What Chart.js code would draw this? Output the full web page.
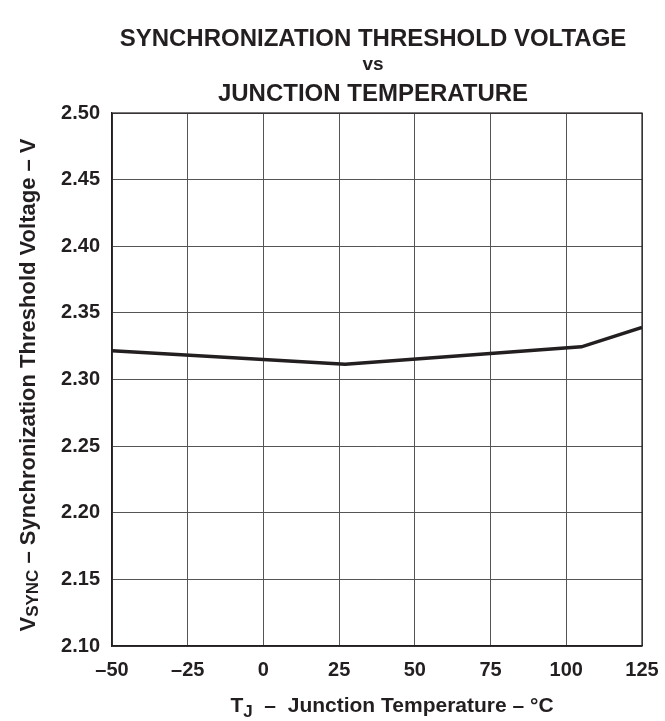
<!DOCTYPE html>
<html>
<head>
<meta charset="utf-8">
<script src="https://cdn.jsdelivr.net/npm/chart.js@4/dist/chart.umd.min.js"></script>
<style>
  html, body { margin: 0; padding: 0; background: #fff; }
  #wrap { width: 665px; height: 721px; }
</style>
</head>
<body>
<div id="wrap"><canvas id="myChart" width="665" height="721"></canvas></div>
<script>
// curve
const tempC = [-50, 27, 105, 125];
const vSync = [2.3215, 2.3115, 2.3245, 2.339];

const xTicks = [-50, -25, 0, 25, 50, 75, 100, 125];
const yTicks = [2.10, 2.15, 2.20, 2.25, 2.30, 2.35, 2.40, 2.45, 2.50];

const titleLines = ['SYNCHRONIZATION THRESHOLD VOLTAGE', 'vs', 'JUNCTION TEMPERATURE'];

const FONT = '"Liberation Sans", Arial, Helvetica, sans-serif';
const INK = '#231f20';

const points = [];
for (let i = 0; i < tempC.length; i++) {
    points.push({ x: tempC[i], y: vSync[i] });
}

// draws title and axis titles (with subscripts)
const labelsPlugin = {
    id: 'labels',
    afterDraw(chart) {
        const ctx = chart.ctx;
        const area = chart.chartArea;
        const cx = (area.left + area.right) / 2;
        ctx.save();
        ctx.fillStyle = INK;
        ctx.textBaseline = 'alphabetic';
        ctx.textAlign = 'center';

        ctx.font = 'bold 24px ' + FONT;
        ctx.fillText(titleLines[0], cx - 4, 46);
        ctx.font = 'bold 19px ' + FONT;
        ctx.fillText(titleLines[1], cx - 4, 70);
        ctx.font = 'bold 24px ' + FONT;
        ctx.fillText(titleLines[2], cx - 4, 101);

        // x axis title
        drawRuns(ctx, [
            ['T', 'bold 21px ' + FONT, 0],
            ['J', 'bold 17px ' + FONT, 5],
            ['  –  Junction Temperature – °C', 'bold 21px ' + FONT, 0]
        ], 392, 712);

        // y axis title, rotated
        ctx.translate(35, 385);
        ctx.rotate(-Math.PI / 2);
        drawRuns(ctx, [
            ['V', 'bold 22px ' + FONT, 0],
            ['SYNC', 'bold 17px ' + FONT, 3],
            [' – Synchronization Threshold Voltage – V', 'bold 22px ' + FONT, 0]
        ], 0, 0);
        ctx.restore();
    }
};

function drawRuns(ctx, runs, cx, y) {
    let total = 0;
    for (let r of runs) {
        ctx.font = r[1];
        total += ctx.measureText(r[0]).width;
    }
    let x = cx - total / 2;
    ctx.textAlign = 'left';
    for (let r of runs) {
        ctx.font = r[1];
        ctx.fillText(r[0], x, y + r[2]);
        x += ctx.measureText(r[0]).width;
    }
    ctx.textAlign = 'center';
}

var ctx = document.getElementById('myChart').getContext('2d');

var myChart = new Chart(ctx, { // eslint-disable-line
    type: 'scatter',
    data: {
        datasets: [{
            data: points,
            showLine: true,
            borderColor: INK,
            borderWidth: 3.5,
            pointRadius: 0,
            tension: 0
        }]
    },
    options: {
        responsive: false,
        animation: false,
        layout: { padding: { top: 113, right: 23, left: 0, bottom: 0 } },
        plugins: {
            legend: { display: false },
            tooltip: { enabled: false }
        },
        scales: {
            x: {
                type: 'linear',
                min: -50,
                max: 125,
                afterBuildTicks: (axis) => { axis.ticks = xTicks.map(v => ({ value: v })); },
                afterFit: (axis) => {
                    axis.height = 75;
                    axis.paddingLeft = 0;
                    axis.paddingRight = 0;
                },
                ticks: {
                    color: INK,
                    font: { family: FONT, size: 20, weight: 'bold' },
                    padding: 12,
                    maxRotation: 0,
                    callback: (v) => (v < 0 ? '–' + Math.abs(v) : String(v))
                },
                grid: { color: '#555', lineWidth: 1, drawTicks: false },
                border: { color: INK, width: 1.2 }
            },
            y: {
                min: 2.10,
                max: 2.50,
                afterBuildTicks: (axis) => { axis.ticks = yTicks.map(v => ({ value: v })); },
                afterFit: (axis) => {
                    axis.width = 112;
                    axis.paddingTop = 0;
                    axis.paddingBottom = 0;
                },
                ticks: {
                    color: INK,
                    font: { family: FONT, size: 20, weight: 'bold' },
                    padding: 12,
                    callback: (v) => v.toFixed(2)
                },
                grid: { color: '#555', lineWidth: 1, drawTicks: false },
                border: { color: INK, width: 1.2 }
            }
        }
    },
    plugins: [labelsPlugin, {
        id: 'frame',
        afterDraw(chart) {
            const a = chart.chartArea;
            const c = chart.ctx;
            c.save();
            c.strokeStyle = INK;
            c.lineWidth = 1.2;
            c.strokeRect(a.left, a.top, a.right - a.left, a.bottom - a.top);
            c.restore();
        }
    }]
});
</script>
</body>
</html>
